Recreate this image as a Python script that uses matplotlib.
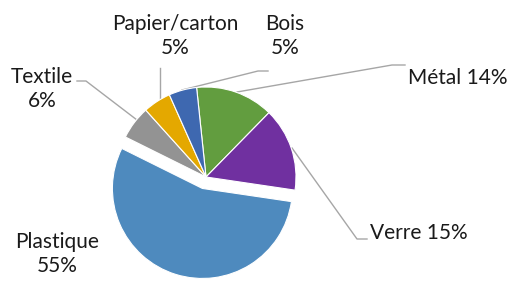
import matplotlib.pyplot as plt

plt.rcParams['font.family'] = ['Lato', 'DejaVu Sans']

categories = ["Métal", "Verre", "Plastique", "Textile", "Papier/carton", "Bois"]
values = [14, 15, 55, 6, 5, 5]
colors = ["#629d3f", "#7030a0", "#4e8abe", "#939393", "#e4a800", "#3e68b0"]
explode_px = [0, 0, 12, 0, 0, 0]

fig = plt.figure(figsize=(5.17, 2.82), dpi=100)
ax = fig.add_axes([0, 0, 1, 1])

# pixel-like coordinates, y going up
H = 282
ax.pie(values, colors=colors, explode=explode_px, startangle=96, counterclock=False,
       center=(206, H - 177), radius=90, frame=True,
       wedgeprops=dict(edgecolor="white", linewidth=0.8))
ax.set_xlim(0, 517)
ax.set_ylim(0, H)
ax.set_aspect("equal")
ax.axis("off")

line_kw = dict(color="#a6a6a6", lw=1.0, zorder=0)
txt_kw = dict(fontsize=15, color="#1a1a1a", va="center")

# leader lines (pixel coords from top)
leaders = [
    [(77, 81), (86, 81), (137, 120)],        # Textile
    [(160, 68), (160, 100)],                  # Papier/carton
    [(268, 71), (258, 71), (182, 90)],        # Bois
    [(405, 65), (392, 65), (237, 92)],        # Métal
    [(367, 239), (357, 239), (292, 148)],     # Verre
]
for pts in leaders:
    ax.plot([p[0] for p in pts], [H - p[1] for p in pts], **line_kw)

ax.text(42, H - 89, "Textile\n6%", ha="center", linespacing=1.2, **txt_kw)
ax.text(175, H - 36, "Papier/carton\n5%", ha="center", linespacing=1.2, **txt_kw)
ax.text(285, H - 36, "Bois\n5%", ha="center", linespacing=1.2, **txt_kw)
ax.text(508, H - 78, "Métal 14%", ha="right", **txt_kw)
ax.text(370, H - 233, "Verre 15%", ha="left", **txt_kw)
ax.text(57, H - 254, "Plastique\n55%", ha="center", linespacing=1.2, **txt_kw)

fig.savefig("out.png", dpi=100)
